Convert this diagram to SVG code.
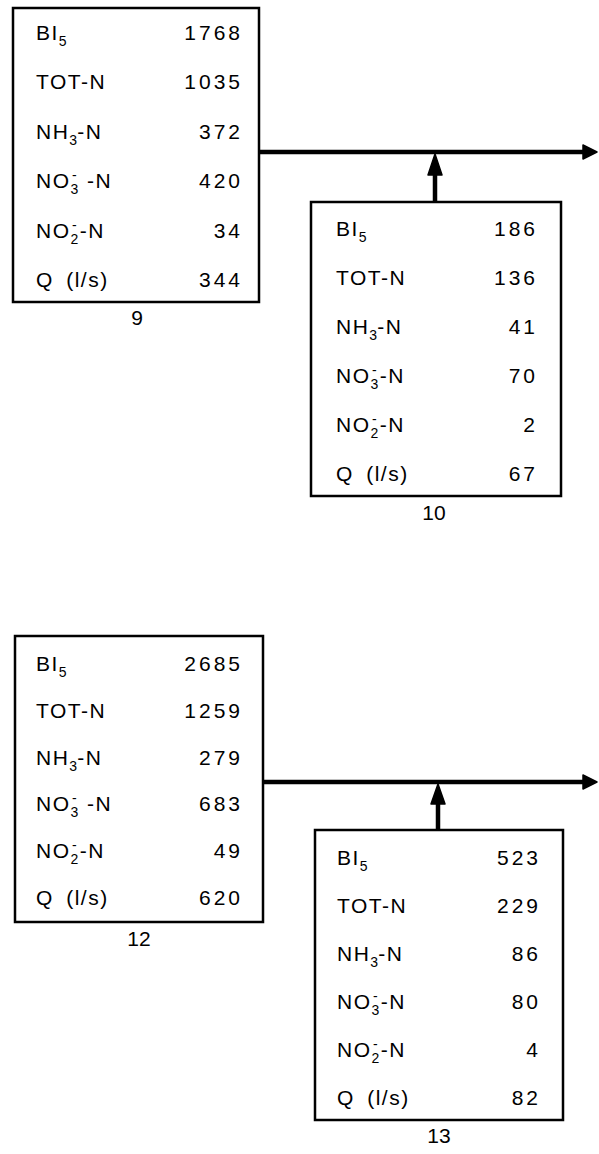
<svg xmlns="http://www.w3.org/2000/svg" width="599" height="1154" viewBox="0 0 599 1154">
<style>
.box{fill:#fff;stroke:#000;stroke-width:2.5}
.lbl{font-family:"Liberation Sans",Arial,sans-serif;font-size:21px;letter-spacing:1.5px;fill:#000}
.val{font-family:"Liberation Sans",Arial,sans-serif;font-size:21px;letter-spacing:3px;text-anchor:end;fill:#000}
.id{font-family:"Liberation Sans",Arial,sans-serif;font-size:21px;text-anchor:middle;fill:#000}
.sb{font-size:14px;letter-spacing:0}
.sp{font-size:14px;letter-spacing:0}
.flow{stroke:#000;stroke-width:4.5;fill:none}
.head{fill:#000;stroke:#000;stroke-width:1.5;stroke-linejoin:round}
</style>
<rect width="599" height="1154" fill="#fff"/>
<g id="connectors">
<path class="flow" d="M259,152 H588"/>
<path class="head" d="M583,145 L597,152 L583,159 Z"/>
<path class="flow" d="M435,202 V172"/>
<path class="head" d="M435,154 L442,175 L428,175 Z"/>
<path class="flow" d="M263,782 H588"/>
<path class="head" d="M583,775 L597,782 L583,789 Z"/>
<path class="flow" d="M438,830 V800"/>
<path class="head" d="M438,784 L445,804 L431,804 Z"/>
</g>
<g id="node9">
<rect class="box" x="13" y="8" width="246" height="294"/>
<text class="lbl" x="36" y="39.5">BI<tspan class="sb" dy="6">5</tspan></text>
<text class="val" x="243" y="39.5">1768</text>
<text class="lbl" x="36" y="89">TOT-N</text>
<text class="val" x="243" y="89">1035</text>
<text class="lbl" x="36" y="138.5">NH<tspan class="sb" dy="6">3</tspan><tspan dy="-6">-N</tspan></text>
<text class="val" x="243" y="138.5">372</text>
<text class="lbl" x="36" y="188">NO<tspan class="sb" dy="6">3</tspan><tspan class="sp" dx="-6.2" dy="-14">-</tspan><tspan dx="3" dy="8"> -N</tspan></text>
<text class="val" x="243" y="188">420</text>
<text class="lbl" x="36" y="237.5">NO<tspan class="sb" dy="6">2</tspan><tspan class="sp" dx="-6.2" dy="-14">-</tspan><tspan dx="3" dy="8">-N</tspan></text>
<text class="val" x="243" y="237.5">34</text>
<text class="lbl" x="36" y="287" word-spacing="5">Q (l/s)</text>
<text class="val" x="243" y="287">344</text>
<text class="id" x="137" y="325">9</text>
</g>
<g id="node10">
<rect class="box" x="311" y="202" width="250" height="294"/>
<text class="lbl" x="336" y="235.5">BI<tspan class="sb" dy="6">5</tspan></text>
<text class="val" x="538" y="235.5">186</text>
<text class="lbl" x="336" y="284.5">TOT-N</text>
<text class="val" x="538" y="284.5">136</text>
<text class="lbl" x="336" y="333.5">NH<tspan class="sb" dy="6">3</tspan><tspan dy="-6">-N</tspan></text>
<text class="val" x="538" y="333.5">41</text>
<text class="lbl" x="336" y="382.5">NO<tspan class="sb" dy="6">3</tspan><tspan class="sp" dx="-6.2" dy="-14">-</tspan><tspan dx="3" dy="8">-N</tspan></text>
<text class="val" x="538" y="382.5">70</text>
<text class="lbl" x="336" y="431.5">NO<tspan class="sb" dy="6">2</tspan><tspan class="sp" dx="-6.2" dy="-14">-</tspan><tspan dx="3" dy="8">-N</tspan></text>
<text class="val" x="538" y="431.5">2</text>
<text class="lbl" x="336" y="480.5" word-spacing="5">Q (l/s)</text>
<text class="val" x="538" y="480.5">67</text>
<text class="id" x="434" y="520">10</text>
</g>
<g id="node12">
<rect class="box" x="15" y="636" width="248" height="286"/>
<text class="lbl" x="36" y="670.5">BI<tspan class="sb" dy="6">5</tspan></text>
<text class="val" x="243" y="670.5">2685</text>
<text class="lbl" x="36" y="717.5">TOT-N</text>
<text class="val" x="243" y="717.5">1259</text>
<text class="lbl" x="36" y="764.5">NH<tspan class="sb" dy="6">3</tspan><tspan dy="-6">-N</tspan></text>
<text class="val" x="243" y="764.5">279</text>
<text class="lbl" x="36" y="810.5">NO<tspan class="sb" dy="6">3</tspan><tspan class="sp" dx="-6.2" dy="-14">-</tspan><tspan dx="3" dy="8"> -N</tspan></text>
<text class="val" x="243" y="810.5">683</text>
<text class="lbl" x="36" y="857.5">NO<tspan class="sb" dy="6">2</tspan><tspan class="sp" dx="-6.2" dy="-14">-</tspan><tspan dx="3" dy="8">-N</tspan></text>
<text class="val" x="243" y="857.5">49</text>
<text class="lbl" x="36" y="904.5" word-spacing="5">Q (l/s)</text>
<text class="val" x="243" y="904.5">620</text>
<text class="id" x="139" y="946">12</text>
</g>
<g id="node13">
<rect class="box" x="315" y="830" width="248" height="290"/>
<text class="lbl" x="337" y="864.5">BI<tspan class="sb" dy="6">5</tspan></text>
<text class="val" x="541" y="864.5">523</text>
<text class="lbl" x="337" y="912.5">TOT-N</text>
<text class="val" x="541" y="912.5">229</text>
<text class="lbl" x="337" y="960.5">NH<tspan class="sb" dy="6">3</tspan><tspan dy="-6">-N</tspan></text>
<text class="val" x="541" y="960.5">86</text>
<text class="lbl" x="337" y="1008.5">NO<tspan class="sb" dy="6">3</tspan><tspan class="sp" dx="-6.2" dy="-14">-</tspan><tspan dx="3" dy="8">-N</tspan></text>
<text class="val" x="541" y="1008.5">80</text>
<text class="lbl" x="337" y="1056.5">NO<tspan class="sb" dy="6">2</tspan><tspan class="sp" dx="-6.2" dy="-14">-</tspan><tspan dx="3" dy="8">-N</tspan></text>
<text class="val" x="541" y="1056.5">4</text>
<text class="lbl" x="337" y="1104.5" word-spacing="5">Q (l/s)</text>
<text class="val" x="541" y="1104.5">82</text>
<text class="id" x="439" y="1143">13</text>
</g>
</svg>
